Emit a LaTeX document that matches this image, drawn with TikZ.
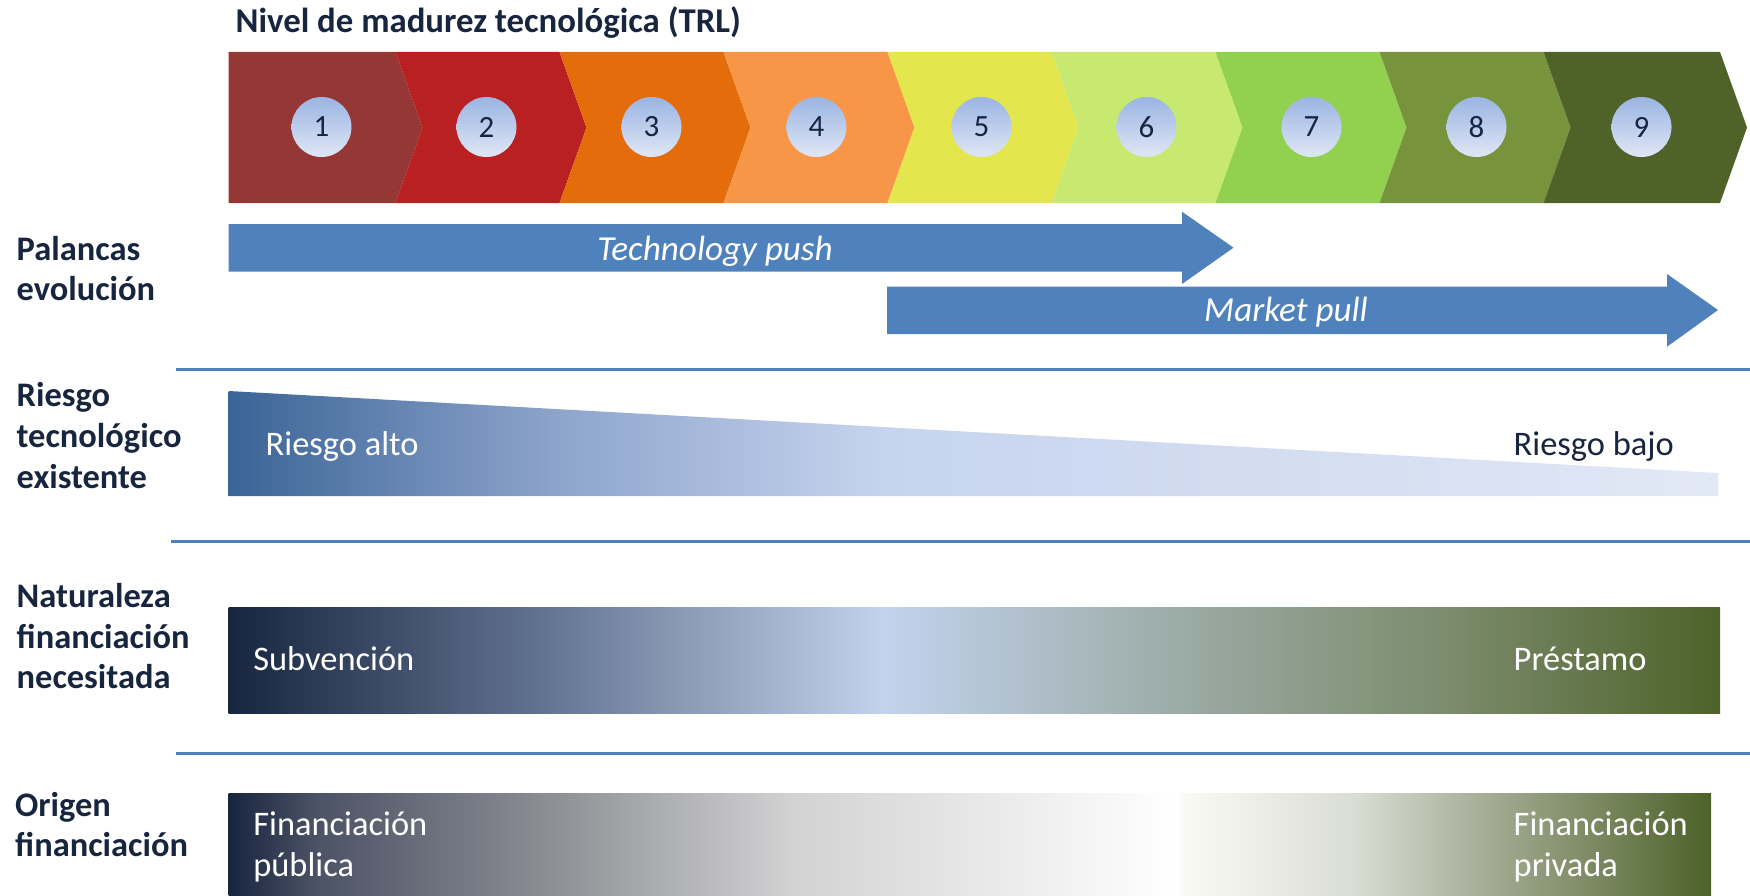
\documentclass[tikz,border=0pt]{standalone}
\usepackage{fontspec}
\setmainfont{Carlito}
\usetikzlibrary{positioning}

\definecolor{navy}{HTML}{17253F}
\definecolor{barblue}{HTML}{4F81BD}
\definecolor{circtop}{HTML}{9BB4E3}
\definecolor{circbot}{HTML}{DFE7F5}
\definecolor{trl1}{HTML}{953735}
\definecolor{trl2}{HTML}{B82022}
\definecolor{trl3}{HTML}{E46C0A}
\definecolor{trl4}{HTML}{F79646}
\definecolor{trl5}{HTML}{E4E64E}
\definecolor{trl6}{HTML}{C8E970}
\definecolor{trl7}{HTML}{92D050}
\definecolor{trl8}{HTML}{77933C}
\definecolor{trl9}{HTML}{4F6228}
\definecolor{olive}{HTML}{4D6229}

% gradients of the three lower rows
\definecolor{riesgoA}{HTML}{3A6496}
\definecolor{riesgoM}{HTML}{8DA4CC}
\definecolor{riesgoB}{HTML}{C6D4EE}
\definecolor{riesgoC}{HTML}{E2E8F5}
\pgfdeclarehorizontalshading{riesgoshade}{100bp}{
  color(0bp)=(riesgoA); color(25bp)=(riesgoA); color(36bp)=(riesgoM);
  color(47bp)=(riesgoB); color(75bp)=(riesgoC); color(100bp)=(riesgoC)}

\definecolor{natA}{HTML}{5E6F8D}
\definecolor{natB}{HTML}{C3D2ED}
\definecolor{natC}{HTML}{97A79E}
\definecolor{natD}{HTML}{7B8B6C}
\pgfdeclarehorizontalshading{naturalezashade}{100bp}{
  color(0bp)=(navy); color(25bp)=(navy); color(35bp)=(natA);
  color(47bp)=(natB); color(58bp)=(natC); color(66bp)=(natD);
  color(75bp)=(olive); color(100bp)=(olive)}

\definecolor{oriA}{HTML}{4C5366}
\definecolor{oriB}{HTML}{8E9095}
\definecolor{oriC}{HTML}{D2D2D3}
\definecolor{oriD}{HTML}{F9FAF4}
\definecolor{oriE}{HTML}{DADDD3}
\definecolor{oriF}{HTML}{B0B6A2}
\pgfdeclarehorizontalshading{origenshade}{100bp}{
  color(0bp)=(navy); color(25bp)=(navy); color(28bp)=(oriA);
  color(36bp)=(oriB); color(44bp)=(oriC); color(57bp)=(white);
  color(57.2bp)=(oriD); color(63bp)=(oriE); color(66.5bp)=(oriF);
  color(75bp)=(olive); color(100bp)=(olive)}

\begin{document}
\begin{tikzpicture}[x=1cm,y=-1cm,
    rowlabel/.style={anchor=base west,inner sep=0pt,align=left,text=navy,
        font=\fontsize{9.8}{11.55}\selectfont\bfseries},
    bartext/.style={anchor=base west,inner sep=0pt,align=left,text=white,
        font=\fontsize{9.8}{11.8}\selectfont},
    trlnum/.style={circle,minimum size=0.6cm,inner sep=0pt,top color=circtop,
        bottom color=circbot,text=navy,font=\fontsize{8.8}{10}\selectfont},
    sepline/.style={barblue,line width=0.7pt}
    ]
\useasboundingbox (0,0) rectangle (17.5,8.95);

\node[rowlabel,font=\fontsize{9.9}{11}\selectfont\bfseries] (titulo) at (2.35,0.323) {Nivel de madurez tecnológica (TRL)};

% chevrons
\foreach \i/\a/\b/\n in {1/2.285/3.955/0, 2/3.955/5.595/0.27, 3/5.595/7.235/0.27,
    4/7.235/8.875/0.27, 5/8.875/10.515/0.27, 6/10.515/12.155/0.27,
    7/12.155/13.795/0.27, 8/13.795/15.435/0.27, 9/15.435/17.20/0.27}
  \fill[trl\i] (\a,0.52) -- (\b,0.52) -- (\b+0.27,1.275) -- (\b,2.03)
      -- (\a,2.03) -- (\a+\n,1.275) -- cycle;
\foreach \i in {1,...,9}
  \node[trlnum] (trl\i) at ({3.215+1.65*(\i-1)},1.27) {\i};

% palancas (base anchor = last line)
\node[rowlabel] (palancas) at (0.16,3.007) {Palancas\\evolución};
\fill[barblue] (2.285,2.24) -- (11.82,2.24) -- (11.82,2.117) -- (12.335,2.477)
    -- (11.82,2.84) -- (11.82,2.717) -- (2.285,2.717) -- cycle;
\fill[barblue] (8.87,2.867) -- (16.67,2.867) -- (16.67,2.74) -- (17.18,3.10)
    -- (16.67,3.467) -- (16.67,3.34) -- (8.87,3.34) -- cycle;
\node[bartext,anchor=base,font=\fontsize{10}{11.8}\selectfont\itshape] (push) at (7.15,2.60) {Technology push};
\node[bartext,anchor=base,font=\fontsize{10}{11.8}\selectfont\itshape] (pull) at (12.86,3.217) {Market pull};

\draw[sepline] (1.76,3.693) -- (17.5,3.693);

% riesgo
\node[rowlabel] (riesgo) at (0.16,4.881) {Riesgo\\tecnológico\\existente};
\shade[shading=riesgoshade] (2.285,3.91) -- (17.18,4.73) -- (17.18,4.96) -- (2.285,4.96) -- cycle;
\node[bartext] (alto) at (2.65,4.55) {Riesgo alto};
\node[bartext,text=navy] (bajo) at (15.13,4.55) {Riesgo bajo};

\draw[sepline] (1.71,5.417) -- (17.5,5.417);

% naturaleza
\node[rowlabel] (naturaleza) at (0.16,6.887) {Naturaleza\\financiación\\necesitada};
\shade[shading=naturalezashade] (2.285,6.07) rectangle (17.2,7.137);
\node[bartext] (subvencion) at (2.526,6.707) {Subvención};
\node[bartext] (prestamo) at (15.13,6.707) {Préstamo};

\draw[sepline] (1.76,7.533) -- (17.5,7.533);

% origen
\node[rowlabel] (origen) at (0.145,8.567) {Origen\\financiación};
\shade[shading=origenshade] (2.285,7.93) rectangle (17.11,8.95);
\node[bartext] (publica) at (2.526,8.767) {Financiación\\pública};
\node[bartext] (privada) at (15.13,8.767) {Financiación\\privada};

\end{tikzpicture}
\end{document}
